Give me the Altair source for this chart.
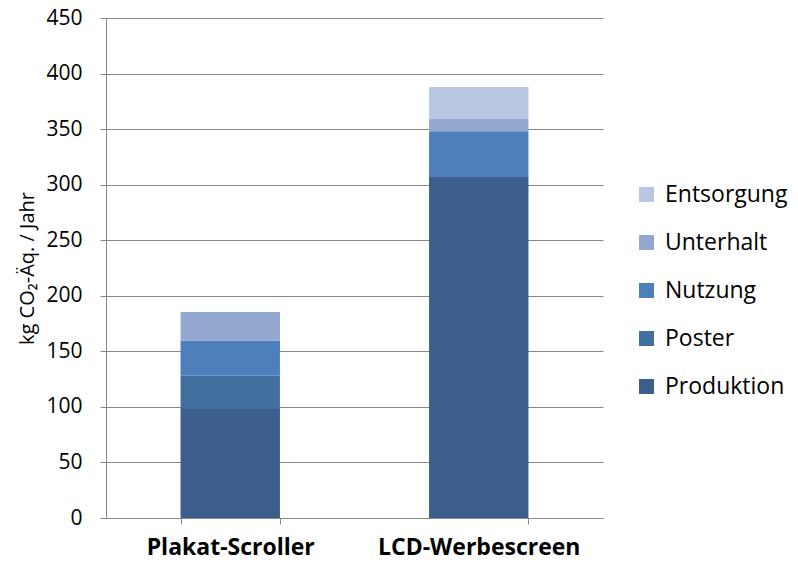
import altair as alt
import pandas as pd

categories = ["Plakat-Scroller", "LCD-Werbescreen"]
phases = ["Produktion", "Poster", "Nutzung", "Unterhalt", "Entsorgung"]
plakat_values = [98, 30, 31.5, 26, 0]
lcd_values = [307, 0, 41, 11, 29]
colors = ["#3B5E8C", "#41709F", "#4C7FBB", "#94A8CF", "#BAC7E2"]
y_ticks = [0, 50, 100, 150, 200, 250, 300, 350, 400, 450]

rows = []
for cat, vals in zip(categories, [plakat_values, lcd_values]):
    for i, (ph, v) in enumerate(zip(phases, vals)):
        rows.append({"Kategorie": cat, "Phase": ph, "Wert": v, "idx": i})
df = pd.DataFrame(rows)

legend_order = phases[::-1]
FONT = "Open Sans"

chart = alt.Chart(df).mark_bar().encode(
    x=alt.X("Kategorie:N", sort=categories,
            scale=alt.Scale(paddingInner=0.6, paddingOuter=0.3),
            axis=alt.Axis(title=None, labelAngle=0, labelFontWeight="bold",
                          labelFontSize=23, labelColor="#000000", labelPadding=12,
                          labelLimit=400,
                          domainColor="#888888", tickColor="#888888", tickSize=6,
                          tickBand="extent", grid=False, labelFont=FONT)),
    y=alt.Y("Wert:Q", stack="zero",
            scale=alt.Scale(domain=[0, 450], nice=False),
            axis=alt.Axis(title="kg CO₂-Äq. / Jahr", values=y_ticks,
                          titleFontSize=20, titleFontWeight="normal", titleColor="#000000",
                          titleFont=FONT, titlePadding=8,
                          labelFontSize=21, labelColor="#000000", labelFont=FONT,
                          labelPadding=18,
                          domainColor="#888888", tickColor="#888888", tickSize=6,
                          gridColor="#888888", gridWidth=1)),
    color=alt.Color("Phase:N",
                    scale=alt.Scale(domain=phases, range=colors),
                    sort=legend_order,
                    legend=alt.Legend(title=None, orient="none", legendX=529, legendY=165,
                                      labelFontSize=23, labelFont=FONT, labelColor="#000000",
                                      labelLimit=300,
                                      symbolType="square", symbolSize=225, symbolStrokeWidth=0,
                                      rowPadding=24, labelOffset=7,
                                      values=legend_order)),
    order=alt.Order("idx:Q", sort="ascending"),
).properties(
    width=497, height=500,
    autosize=alt.AutoSizeParams(type="none"),
    padding={"left": 98, "top": 10, "right": 186, "bottom": 45},
).configure_view(stroke=None).configure_axis(domainWidth=1, tickWidth=1)

chart.save("out.html", embed_options={"renderer": "svg", "actions": False})
